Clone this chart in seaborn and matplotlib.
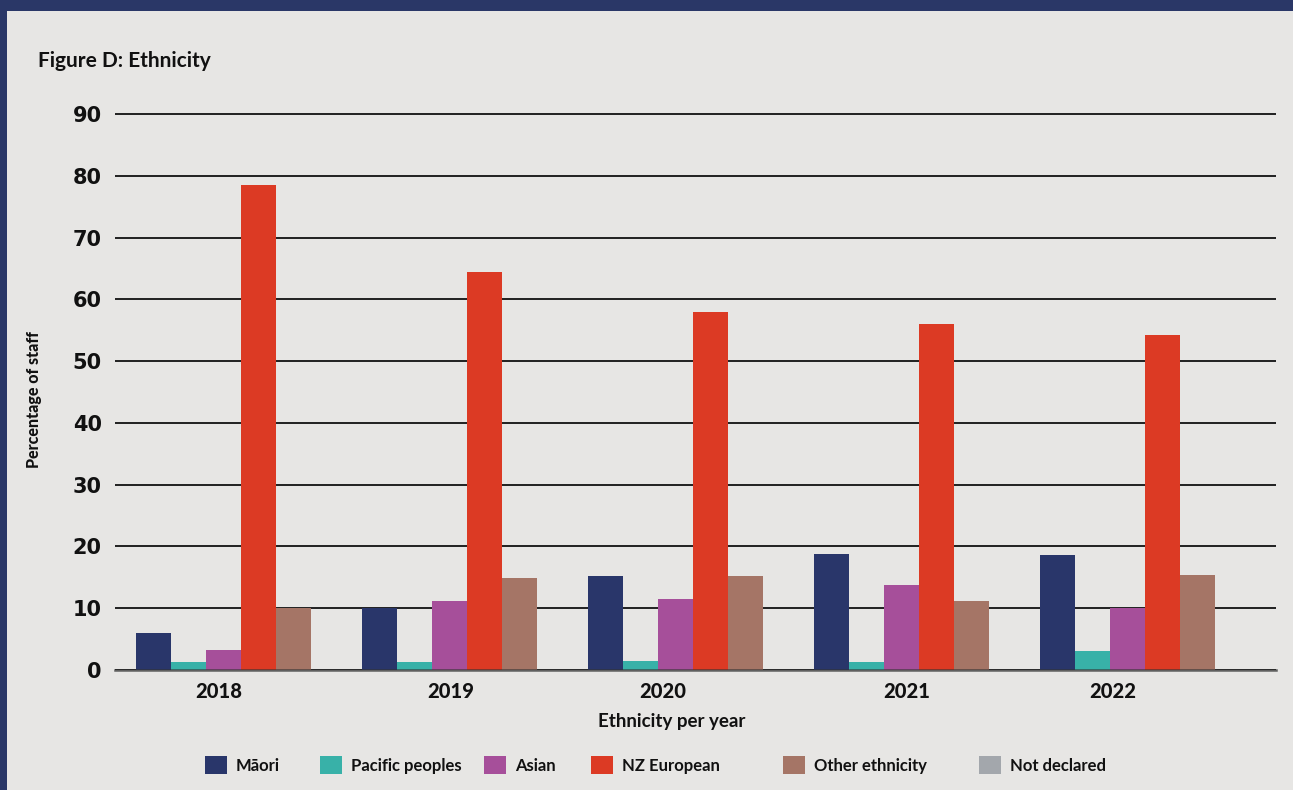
import numpy as np
import pandas as pd
import matplotlib
matplotlib.use("Agg")
import matplotlib.pyplot as plt
from matplotlib.patches import Rectangle, Patch
from matplotlib.font_manager import FontProperties
import seaborn as sns

years = ["2018", "2019", "2020", "2021", "2022"]
groups = ["Māori", "Pacific peoples", "Asian", "NZ European", "Other ethnicity", "Not declared"]
maori = [6.0, 10.0, 15.2, 18.8, 18.6]
pacific = [1.3, 1.3, 1.5, 1.3, 3.1]
asian = [3.2, 11.2, 11.5, 13.8, 10.0]
nz_european = [78.5, 64.4, 57.9, 56.0, 54.2]
other = [10.0, 14.9, 15.2, 11.2, 15.4]
not_declared = [0, 0, 0, 0, 0]
colors = ["#29366A", "#38B1A8", "#A64F9A", "#DC3A24", "#A57566", "#A3A7AC"]
yticks = [0, 10, 20, 30, 40, 50, 60, 70, 80, 90]

series = [maori, pacific, asian, nz_european, other, not_declared]
rows = []
for g, vals in zip(groups, series):
    for y, v in zip(years, vals):
        rows.append({"Year": y, "Group": g, "Value": v})
df = pd.DataFrame(rows)

sns.set_theme(style="white")
plt.rcParams["font.family"] = ["Lato", "DejaVu Sans"]

W, H = 1293, 790
fig = plt.figure(figsize=(W / 100, H / 100), dpi=100)
fig.patch.set_facecolor("#2A3767")
panel = Rectangle((7 / W, 0), 1 - 7 / W, 1 - 11 / H, transform=fig.transFigure,
                  facecolor="#E7E6E4", edgecolor="none", zorder=-10)
fig.patches.append(panel)

ax_top = 114 - 6.18
ax = fig.add_axes([115 / W, 1 - 670 / H, (1276 - 115) / W, (670 - ax_top) / H])
ax.set_zorder(1)
ax.patch.set_alpha(0)

sns.barplot(data=df, x="Year", y="Value", hue="Group", hue_order=groups, order=years,
            palette=colors, width=0.93, saturation=1, ax=ax, legend=False,
            edgecolor="none", linewidth=0)

ax.set_ylim(0, 91)
ax.set_xlim(-0.558, 4.58)
ax.tick_params(axis="y", length=0, pad=9.5)
ax.tick_params(axis="x", length=0, pad=9)
ax.set_yticks(yticks)
ax.set_yticklabels([str(t) for t in yticks])
ax.set_xticks([-0.097, 0.929, 1.867, 2.947, 3.858])
ax.set_xticklabels(years)
fp_y = FontProperties(family="DejaVu Sans", weight="bold", size=15)
fp_x = FontProperties(family="Lato", weight=900, size=14.5)
for t in ax.get_yticklabels():
    t.set_fontproperties(fp_y)
    t.set_color("#111111")
for t in ax.get_xticklabels():
    t.set_fontproperties(fp_x)
    t.set_color("#111111")

ax.yaxis.grid(True, color="#111111", linewidth=1.3)
ax.set_axisbelow(True)
for s in ["top", "right", "left"]:
    ax.spines[s].set_visible(False)
ax.spines["bottom"].set_color("#333333")
ax.spines["bottom"].set_alpha(0.75)
ax.spines["bottom"].set_linewidth(1.8)

ax.set_ylabel("Percentage of staff", color="#111111",
              fontproperties=FontProperties(family="Lato", weight=900, size=11.5))
ax.yaxis.set_label_coords((42 - 115) / (1276 - 115), (670 - 400) / (670 - ax_top))
ax.yaxis.label.set_horizontalalignment("center")
ax.set_xlabel("Ethnicity per year", color="#111111",
              fontproperties=FontProperties(family="Lato", weight="bold", size=13.5))
ax.xaxis.set_label_coords((672 - 115) / (1276 - 115), -(722 - 670) / (670 - ax_top))
ax.xaxis.label.set_verticalalignment("center")

fig.text(38 / W, 1 - 61 / H, "Figure D: Ethnicity", fontsize=15, fontweight="bold",
         color="#111111", ha="left", va="center")

legend_x = [205, 320, 484, 591, 783, 979]
for lx, c, g in zip(legend_x, colors, groups):
    leg = fig.legend([Patch(facecolor=c, edgecolor="none")], [g], loc="center left",
                     bbox_to_anchor=(lx / W, 1 - 765 / H), frameon=False,
                     borderpad=0, borderaxespad=0,
                     handlelength=1.3, handleheight=1.3, handletextpad=0.55,
                     prop={"family": "Lato", "weight": "bold", "size": 12})
    for t in leg.get_texts():
        t.set_color("#111111")

fig.savefig("out.png", dpi=100, facecolor=fig.get_facecolor())
